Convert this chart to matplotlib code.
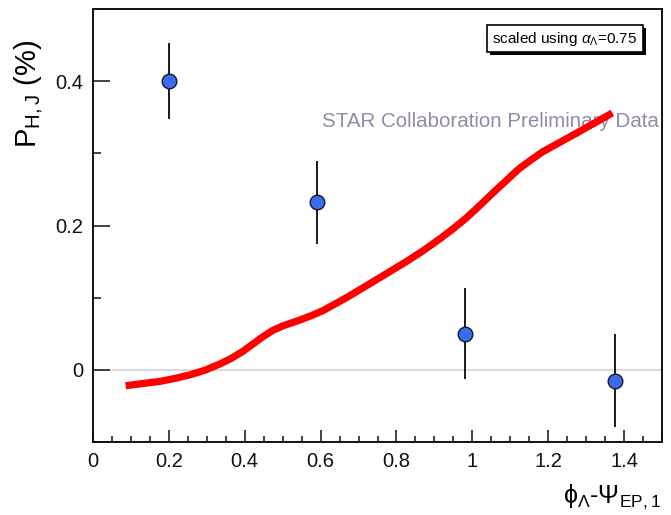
import matplotlib
matplotlib.use("Agg")
import matplotlib.pyplot as plt
from matplotlib.patches import Rectangle
from matplotlib.ticker import MultipleLocator, FormatStrFormatter

plt.rcParams["font.family"] = ["Liberation Sans", "DejaVu Sans"]
plt.rcParams["mathtext.fontset"] = "custom"
plt.rcParams["mathtext.rm"] = "Liberation Sans"
plt.rcParams["mathtext.it"] = "Liberation Sans:italic"
plt.rcParams["mathtext.bf"] = "Liberation Sans:bold"

# measured polarization vs. event-plane angle
dphi = [0.2, 0.59, 0.98, 1.375]
pol = [0.400, 0.232, 0.050, -0.015]
pol_err = [0.053, 0.057, 0.063, 0.064]

# model curve
curve_x = [0.086, 0.13, 0.176, 0.215, 0.255, 0.295, 0.334, 0.365, 0.396,
           0.422, 0.448, 0.475, 0.501, 0.523, 0.545, 0.575, 0.606, 0.637,
           0.668, 0.703, 0.738, 0.782, 0.826, 0.87, 0.913, 0.948, 0.983,
           1.01, 1.036, 1.062, 1.089, 1.107, 1.124, 1.155, 1.185, 1.216,
           1.247, 1.278, 1.308, 1.339, 1.369]
curve_y = [-0.022, -0.019, -0.016, -0.012, -0.007, -0.0005, 0.008, 0.016,
           0.026, 0.036, 0.046, 0.055, 0.061, 0.065, 0.069, 0.075, 0.082,
           0.091, 0.100, 0.111, 0.122, 0.136, 0.150, 0.165, 0.181, 0.195,
           0.210, 0.223, 0.236, 0.249, 0.262, 0.271, 0.279, 0.291, 0.302,
           0.311, 0.320, 0.329, 0.338, 0.347, 0.356]

fig = plt.figure(figsize=(6.71, 5.15), dpi=100)
ax = fig.add_axes([0.1386, 0.1417, 0.848, 0.8408])

ax.axhline(0, color="#d4d4d4", lw=1.2, zorder=1)
ax.text(0.4025, 0.741, "STAR Collaboration Preliminary Data",
        transform=ax.transAxes, color="#8c8cac", fontsize=14.8,
        va="center", ha="left", zorder=2)
ax.plot(curve_x, curve_y, color="#ff0000", lw=5.2, solid_capstyle="butt",
        solid_joinstyle="round", zorder=3)
ax.errorbar(dphi, pol, yerr=pol_err, fmt="o", color="#1a1a1a", ecolor="#1a1a1a",
            elinewidth=1.4, capsize=0, ms=10.5, mfc="#3b6bf0", mec="#1a1a1a",
            mew=1.0, zorder=4)

ax.set_xlim(0, 1.5)
ax.set_ylim(-0.1, 0.5)
ax.xaxis.set_major_locator(MultipleLocator(0.2))
ax.xaxis.set_minor_locator(MultipleLocator(0.05))
ax.yaxis.set_major_locator(MultipleLocator(0.2))
ax.yaxis.set_minor_locator(MultipleLocator(0.1))
ax.xaxis.set_major_formatter(FormatStrFormatter("%g"))
ax.yaxis.set_major_formatter(FormatStrFormatter("%g"))

ax.tick_params(axis="both", which="both", direction="in", width=1.1,
               labelsize=14.5, colors="#111111")
ax.tick_params(axis="x", which="major", length=9, pad=7)
ax.tick_params(axis="x", which="minor", length=4.5)
ax.tick_params(axis="y", which="major", length=12, pad=7)
ax.tick_params(axis="y", which="minor", length=6)
for s in ax.spines.values():
    s.set_linewidth(1.4)
    s.set_color("#111111")

fig.text(0.042, 0.922, r"$\mathrm{P}_{\mathrm{H,J}}$ (%)", rotation=90,
         ha="center", va="top", fontsize=21)
fig.text(0.985, 0.036, r"$\mathrm{\phi}_{\Lambda}$-$\Psi_{\mathrm{EP,1}}$",
         ha="right", va="center", fontsize=18)

# boxed note with drop shadow
fig.patches.append(Rectangle((0.7303, 0.8932), 0.2325, 0.0524,
                             transform=fig.transFigure, fc="black", ec="black",
                             lw=0, zorder=5))
fig.patches.append(Rectangle((0.7258, 0.8990), 0.2325, 0.0524,
                             transform=fig.transFigure, fc="white", ec="black",
                             lw=1.2, zorder=6))
fig.text(0.842, 0.925, r"scaled using $\alpha_{\Lambda}$=0.75", ha="center",
         va="center", fontsize=11, zorder=7)

fig.savefig("out.png", dpi=100)
